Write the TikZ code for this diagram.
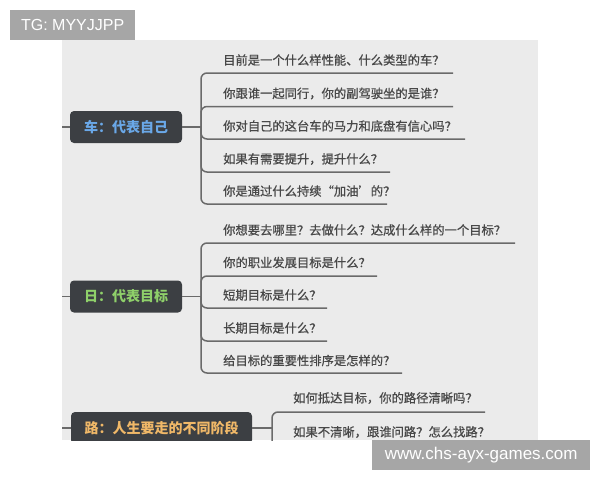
\documentclass[tikz,border=0pt]{standalone}
\usepackage{fontspec}
\setmainfont{Liberation Sans}
\newfontfamily\cjk{Noto Sans CJK SC}
\newfontfamily\cjkm[FakeBold=0.7]{Noto Sans CJK SC}
\definecolor{panel}{HTML}{EBEBEB}
\definecolor{boxfill}{HTML}{3C3F43}
\definecolor{linec}{HTML}{6A6A6A}
\definecolor{txt}{HTML}{484848}
\definecolor{bluet}{HTML}{6AA8E8}
\definecolor{greent}{HTML}{8FD06A}
\definecolor{oranget}{HTML}{F0B868}
\definecolor{wm}{HTML}{A6A6A6}
\begin{document}
\begin{tikzpicture}[x=1pt,y=-1pt,
  topic/.style={draw=none, fill=boxfill, rounded corners=4pt, minimum height=32pt, inner xsep=0pt, font=\cjk\bfseries\fontsize{14}{16}\selectfont},
  sub/.style={anchor=west, inner sep=0pt, text=txt, font=\cjkm\fontsize{12.3}{14}\selectfont},
  conn/.style={draw=linec, line width=1.5pt},
  br/.style={conn, rounded corners=6pt},
  wmark/.style={fill=wm, text=white, inner sep=0pt, anchor=north west, minimum height=30pt}]
\useasboundingbox (0,0) rectangle (600,480);
\fill[white] (0,0) rectangle (600,480);
\begin{scope}
\clip (62,40) rectangle (538,440);
\fill[panel] (62,40) rectangle (538,440);
% topics
\node[topic, minimum width=112pt, text=bluet] (car) at (126,127) {车：代表自己};
\node[topic, minimum width=112pt, text=greent] (sun) at (126,296.5) {日：代表目标};
\node[topic, minimum width=181pt, text=oranget] (road) at (161.5,428) {路：人生要走的不同阶段};
\coordinate (l1) at (62,127);
\coordinate (l2) at (62,296.5);
\coordinate (l3) at (62,428);
\draw[conn] (l1) -- (car.west);
\draw[conn] (l2) -- (sun.west);
\draw[conn] (l3) -- (road.west);
\coordinate (csp) at (201,127);
\coordinate (ssp) at (201,296.5);
\coordinate (rsp) at (272,428);
\draw[conn] (car.east) -- (csp);
\draw[conn] (sun.east) -- (ssp);
\draw[conn] (road.east) -- (rsp);
% car children
\node[sub] (c1) at (223,60) {目前是一个什么样性能、什么类型的车？};
\node[sub] (c2) at (223,93.5) {你跟谁一起同行，你的副驾驶坐的是谁？};
\node[sub] (c3) at (223,126) {你对自己的这台车的马力和底盘有信心吗？};
\node[sub] (c4) at (223,159) {如果有需要提升，提升什么？};
\node[sub] (c5) at (223,191) {你是通过什么持续“加油’的？};
\coordinate (c1e) at (453,73);
\coordinate (c2e) at (453,106.5);
\coordinate (c3e) at (465,139);
\coordinate (c4e) at (390,172);
\coordinate (c5e) at (387,204);
\foreach \e in {c1e,c2e,c3e,c4e,c5e} \draw[br] (csp) |- (\e);
% sun children
\node[sub] (s1) at (223,230) {你想要去哪里？去做什么？达成什么样的一个目标？};
\node[sub] (s2) at (223,262.5) {你的职业发展目标是什么？};
\node[sub] (s3) at (223,295) {短期目标是什么？};
\node[sub] (s4) at (223,328) {长期目标是什么？};
\node[sub] (s5) at (223,360.5) {给目标的重要性排序是怎样的？};
\coordinate (s1e) at (515,243);
\coordinate (s2e) at (377,276);
\coordinate (s3e) at (327,308);
\coordinate (s4e) at (327,341);
\coordinate (s5e) at (402,373);
\foreach \e in {s1e,s2e,s3e,s4e,s5e} \draw[br] (ssp) |- (\e);
% road children
\node[sub] (r1) at (293,398) {如何抵达目标，你的路径清晰吗？};
\node[sub] (r2) at (293,432) {如果不清晰，跟谁问路？怎么找路？};
\coordinate (r1e) at (485,412);
\coordinate (r2e) at (490,446);
\foreach \e in {r1e,r2e} \draw[br] (rsp) |- (\e);
\end{scope}
% watermarks
\node[wmark, minimum width=125pt, font=\fontsize{16}{18}\selectfont] (wm1) at (10,10) {TG: MYYJJPP};
\node[wmark, minimum width=218pt, font=\fontsize{17}{19}\selectfont] (wm2) at (372,440) {www.chs-ayx-games.com};
\end{tikzpicture}
\end{document}
